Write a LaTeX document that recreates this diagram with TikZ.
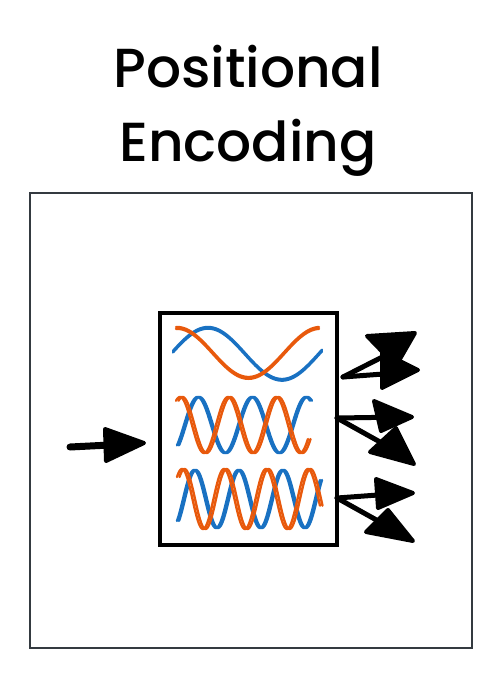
\documentclass[tikz,border=0pt]{standalone}
\usepackage{fontspec}
\setmainfont{Poppins}[UprightFont=* Medium]
\usetikzlibrary{arrows.meta}
\definecolor{frame}{HTML}{343A40}
\definecolor{exorange}{HTML}{E8590C}
\definecolor{exblue}{HTML}{1971C2}
\tikzset{
  wave/.style={line width=2.4pt, line cap=round, line join=round},
  shaft/.style={line width=5pt, line cap=round},
  head/.style={fill=black, draw=black, line width=4pt, line join=round},
}
\begin{document}
\begin{tikzpicture}[x=1pt,y=-1pt]
\useasboundingbox (0,0) rectangle (502,678);
% title
\node[font=\fontsize{55}{60}\selectfont] (t1) at (248,67) {Positional};
\node[font=\fontsize{55}{60}\selectfont] (t2) at (248,148) {Encoding};
% outer frame
\draw[frame, line width=2pt] (30,193) rectangle (472,648);
% inner box
\node[draw, line width=3.2pt, minimum width=177pt, minimum height=232pt, inner sep=0pt] (box) at (248.5,429) {};
% row 1
\foreach \d in {0,1.6} {
  \draw[wave, exblue] plot[domain=173:322, samples=90] (\x, {353+\d-26*sin((\x-171)/148*360)});
}
\foreach \d in {0,1.8} {
  \draw[wave, exorange] plot[domain=176:319, samples=90] (\x, {352+\d-25*cos((\x-177)/143*360)});
}
% row 2
\foreach \d in {0,2} {
  \draw[wave, exblue] plot[domain=177:310, samples=120] ({\x+\d}, {425-28*sin((\x-184)/54*360)});
}
\foreach \d in {0,2.5} {
  \draw[wave, exorange] plot[domain=176:308, samples=120] ({\x+\d}, {425-28*cos((\x-180)/48*360)});
}
% row 3
\foreach \d in {0,2} {
  \draw[wave, exblue] plot[domain=177:320, samples=150] ({\x+\d}, {499-29*sin((\x-183)/44*360)});
}
\foreach \d in {0,2.5} {
  \draw[wave, exorange] plot[domain=177:320, samples=150] ({\x+\d}, {499-30*cos((\x-182)/42*360)});
}
% input arrow
\coordinate (in0) at (70,447);
\coordinate (in1) at (110,445);
\draw[line width=7pt, line cap=round] (in0) -- (in1);
\draw[head] (105,429) -- (144,443) -- (106,461) -- cycle;
% output arrows, set 1
\coordinate (o1) at (343,377);
\coordinate (o1a) at (400,348);
\coordinate (o1b) at (410,372);
\draw[shaft] (o1) -- (o1a);
\draw[shaft] (o1) -- (o1b);
\draw[head] (367,336) -- (415,333) -- (396,366) -- cycle;
\draw[head] (382,352) -- (418,370) -- (382,388) -- cycle;
% set 2
\coordinate (o2) at (337,418);
\coordinate (o2a) at (405,417);
\coordinate (o2b) at (398,452);
\draw[shaft] (o2) -- (o2a);
\draw[shaft] (o2) -- (o2b);
\draw[head] (374,401) -- (412,417) -- (381,431) -- cycle;
\draw[head] (370,452) -- (396,428) -- (414,464) -- cycle;
% set 3
\coordinate (o3) at (337,498);
\coordinate (o3a) at (405,493);
\coordinate (o3b) at (398,532);
\draw[shaft] (o3) -- (o3a);
\draw[shaft] (o3) -- (o3b);
\draw[head] (376,479) -- (413,493) -- (378,508) -- cycle;
\draw[head] (366,532) -- (388,510) -- (413,541) -- cycle;
\end{tikzpicture}
\end{document}
